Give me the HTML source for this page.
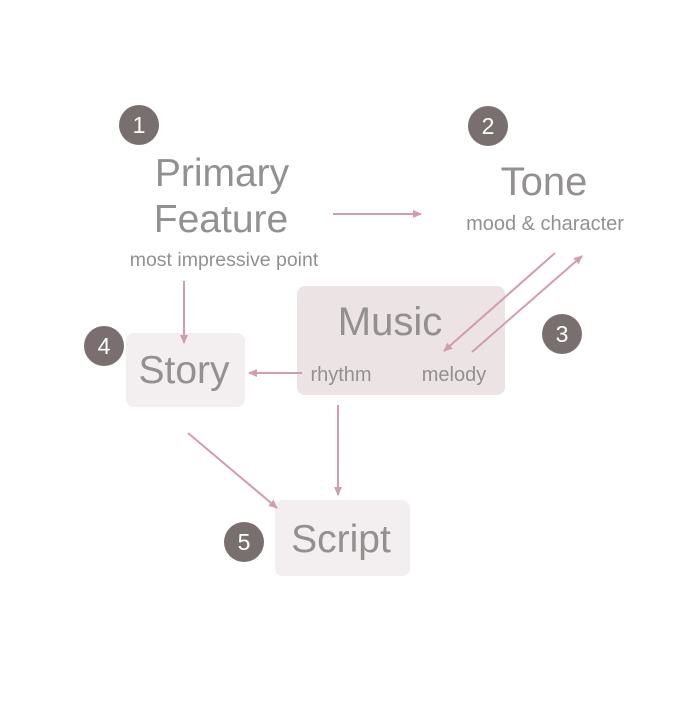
<!DOCTYPE html>
<html><head><style>
body{margin:0;background:#fff;width:700px;height:700px;overflow:hidden;font-family:"Liberation Sans",sans-serif;}
</style></head><body>
<svg width="700" height="700" viewBox="0 0 700 700" xmlns="http://www.w3.org/2000/svg" font-family="Liberation Sans, sans-serif">
<defs><marker id="a" markerWidth="10" markerHeight="10" refX="8" refY="5" orient="auto" markerUnits="userSpaceOnUse"><path d="M0,1 L9,5 L0,9 z" fill="#d39bb2"/></marker></defs>
<rect x="126" y="333" width="119" height="74" rx="8" fill="#f3eeef"/>
<rect x="297" y="286" width="208" height="109" rx="8" fill="#ece3e4"/>
<rect x="275" y="500" width="135" height="76" rx="8" fill="#f3eeef"/>
<g stroke="#d39bb2" stroke-width="2" fill="none" marker-end="url(#a)">
<line x1="333" y1="214" x2="421" y2="214"/>
<line x1="184" y1="281" x2="184" y2="343"/>
<line x1="555" y1="253" x2="444" y2="351"/>
<line x1="472" y1="352" x2="582" y2="256"/>
<line x1="302" y1="373" x2="249" y2="373"/>
<line x1="338" y1="405" x2="338" y2="495"/>
<line x1="188" y1="433" x2="277" y2="508"/>
</g>
<g fill="#939090" text-anchor="middle">
<text x="222" y="186" font-size="39">Primary</text>
<text x="221" y="232" font-size="39">Feature</text>
<text x="224" y="266" font-size="19.5">most impressive point</text>
<text x="544" y="195" font-size="40">Tone</text>
<text x="545" y="230" font-size="20">mood &amp; character</text>
<text x="390" y="335" font-size="40">Music</text>
<text x="341" y="381" font-size="20">rhythm</text>
<text x="454" y="381" font-size="20">melody</text>
<text x="184" y="383" font-size="39">Story</text>
<text x="341" y="552" font-size="39">Script</text>
</g>
<g fill="#7a6f6f"><circle cx="139" cy="125" r="20"/><circle cx="488" cy="126" r="20"/><circle cx="562" cy="334" r="20"/><circle cx="104" cy="346" r="20"/><circle cx="244" cy="542" r="20"/></g>
<g fill="#fff" font-size="23" text-anchor="middle">
<text x="139" y="133">1</text><text x="488" y="134">2</text><text x="562" y="342">3</text><text x="104" y="354">4</text><text x="244" y="550">5</text>
</g>
</svg>
</body></html>
